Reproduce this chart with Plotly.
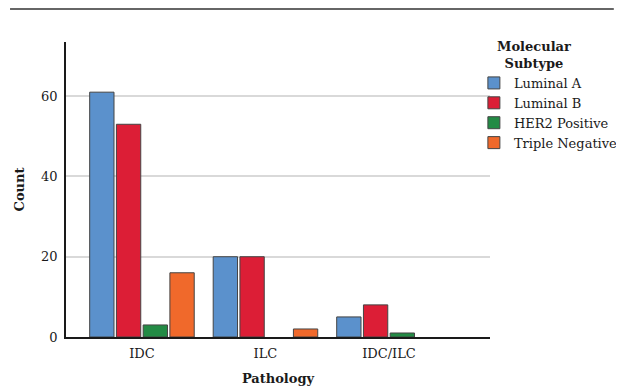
import plotly.graph_objects as go

categories = ["IDC", "ILC", "IDC/ILC"]
luminal_a = [61, 20, 5]
luminal_b = [53, 20, 8]
her2_positive = [3, 0, 1]
triple_negative = [16, 2, 0]

series = [
    ("Luminal A", luminal_a, "#5b91cc"),
    ("Luminal B", luminal_b, "#dc1e36"),
    ("HER2 Positive", her2_positive, "#238b45"),
    ("Triple Negative", triple_negative, "#f0692b"),
]

FONT = "DejaVu Serif"

fig = go.Figure()
for name, vals, color in series:
    fig.add_trace(go.Bar(
        x=categories, y=vals, name=name,
        marker=dict(color=color,
                    line=dict(color="#444444", width=[1 if v else 0 for v in vals])),
    ))

fig.update_layout(
    width=624, height=389,
    margin=dict(l=58, r=142, t=34, b=60, autoexpand=False),
    paper_bgcolor="white", plot_bgcolor="white",
    barmode="group", bargap=0.134, bargroupgap=0.09,
    font=dict(family=FONT, size=13, color="#1a1a1a"),
    xaxis=dict(
        range=[-0.615, 2.818], showline=True, linecolor="#1a1a1a", linewidth=1.5,
        ticks="", showgrid=False, tickfont=dict(size=13), automargin=False,
        ticklabelstandoff=4,
        title=dict(text="<b>Pathology</b>", font=dict(size=13), standoff=14),
    ),
    yaxis=dict(
        range=[0, 73.5], tickvals=[0, 20, 40, 60], showline=True,
        linecolor="#1a1a1a", linewidth=1.5, ticks="", showgrid=True, automargin=False,
        ticklabelstandoff=4,
        gridcolor="#d9d9d9", gridwidth=1.5, zeroline=False, tickfont=dict(size=13),
        title=dict(text="<b>Count</b>", font=dict(size=13), standoff=14),
    ),
    legend=dict(
        x=0.962, y=0.912, xanchor="left", yanchor="top",
        font=dict(size=13), tracegroupgap=0, itemwidth=30,
        bgcolor="rgba(0,0,0,0)",
    ),
    annotations=[dict(text="<b>Molecular<br>Subtype</b>", xref="paper", yref="paper",
                      x=1.103, y=0.956, xanchor="center", yanchor="middle",
                      showarrow=False, align="center", font=dict(size=13))],
    shapes=[dict(type="line", xref="paper", yref="paper",
                 x0=-0.132, x1=1.292, y0=1.112, y1=1.112,
                 line=dict(color="#333333", width=1.5))],
)

fig.write_html("out.html")
